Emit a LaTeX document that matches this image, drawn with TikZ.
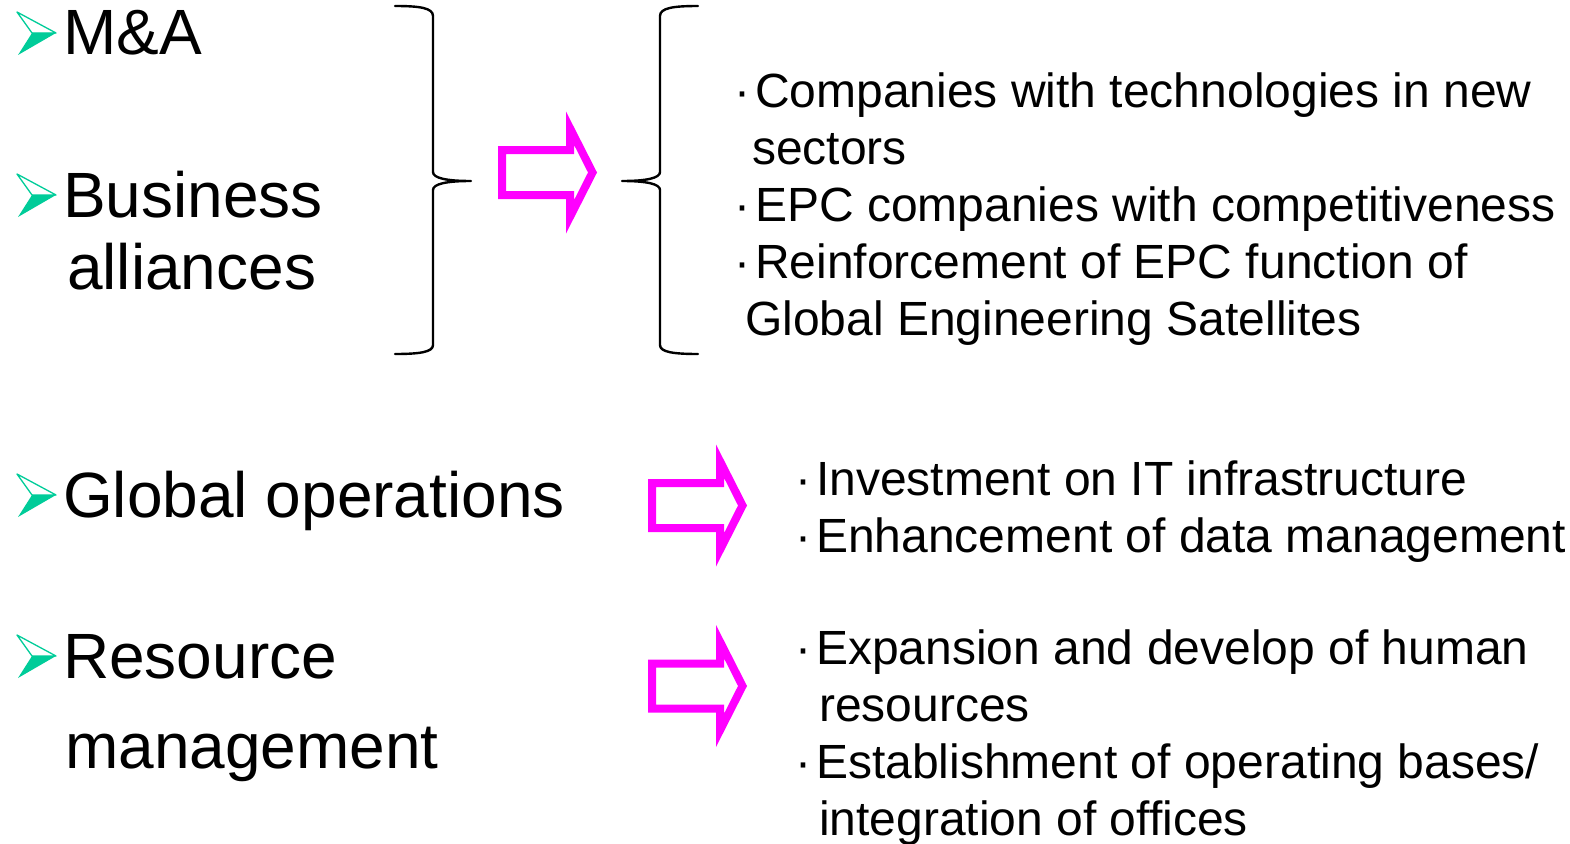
\documentclass[tikz,border=0pt]{standalone}
\usepackage{fontspec}
\setmainfont{Liberation Sans}
\usetikzlibrary{positioning}
\definecolor{bulletgreen}{RGB}{0,204,153}
\definecolor{hotpink}{RGB}{255,0,255}
% small dot in front of each point
\newcommand{\listdot}{·\kern5pt}

\begin{document}
\begin{tikzpicture}[
  x=1pt, y=-1pt,
  topic/.style={
    anchor=base west,
    inner sep=0pt,
    font=\fontsize{64}{72}\selectfont
  },
  detail/.style={
    anchor=base west,
    inner sep=0pt,
    font=\fontsize{48}{56}\selectfont
  },
  brace line/.style={
    line width=2.4pt,
    line cap=round,
    line join=round
  },
  % arrowhead bullet, origin on the baseline
  tip bullet/.pic={
    \draw[bulletgreen, line width=1.3pt, line join=round] (0,-43) -- (39,-22) -- (15,-22) -- cycle;
    \fill[bulletgreen] (15,-22) -- (39,-22) -- (1,0) -- cycle;
  },
  % hollow block arrow, origin at the middle of its tail
  fat arrow/.pic={
    \fill[hotpink, even odd rule]
      (0,-26.5) -- (68,-26.5) -- (68,-61) -- (99,0) -- (68,61) -- (68,26.5) -- (0,26.5) -- cycle
      (8,-18.5) -- (76,-18.5) -- (76,-27.7) -- (90,0) -- (76,27.7) -- (76,18.5) -- (8,18.5) -- cycle;
  }
]
\useasboundingbox (0,0) rectangle (1570,843);

% left column
\pic at (17,55) {tip bullet};
\node (ma) [topic] at (63,55) {M\&A};
\pic at (17,217) {tip bullet};
\node (biz) [topic] at (63,217) {Business};
\node (alli) [topic] at (67,289) {alliances};
\pic at (17,517) {tip bullet};
\node (glob) [topic] at (63,517) {Global operations};
\pic at (17,678) {tip bullet};
\node (res) [topic] at (63,678) {Resource};
\node (mgmt) [topic] at (65,768) {management};

% braces
\draw[brace line] (395,6) .. controls (420,6) and (433,8) .. (433,16)
  -- (433,172) .. controls (433,178) and (446,181) .. (471,181)
  .. controls (446,181) and (433,184) .. (433,190)
  -- (433,345) .. controls (433,352) and (420,354) .. (395,354);
\draw[brace line] (698,6) .. controls (673,6) and (660,8) .. (660,16)
  -- (660,172) .. controls (660,178) and (647,181) .. (622,181)
  .. controls (647,181) and (660,184) .. (660,190)
  -- (660,345) .. controls (660,352) and (673,354) .. (698,354);

% block arrows
\pic at (498,172.5) {fat arrow};
\pic at (648,505.5) {fat arrow};
\pic at (648,686) {fat arrow};

% right column
\node (comp) [detail] at (734,107) {\listdot Companies with technologies in new};
\node (sect) [detail] at (752,164) {sectors};
\node (epc) [detail] at (734,221) {\listdot EPC companies with competitiveness};
\node (reinf) [detail] at (734,278) {\listdot Reinforcement of EPC function of};
\node (gesat) [detail] at (745,335) {Global Engineering Satellites};

\node (invest) [detail] at (795,495) {\listdot Investment on IT infrastructure};
\node (enh) [detail] at (795,552) {\listdot Enhancement of data management};

\node (expand) [detail] at (795,664) {\listdot Expansion and develop of human};
\node (hr) [detail] at (819,721) {resources};
\node (estab) [detail] at (795,778) {\listdot Establishment of operating bases/};
\node (integ) [detail] at (819,835) {integration of offices};

\end{tikzpicture}
\end{document}
